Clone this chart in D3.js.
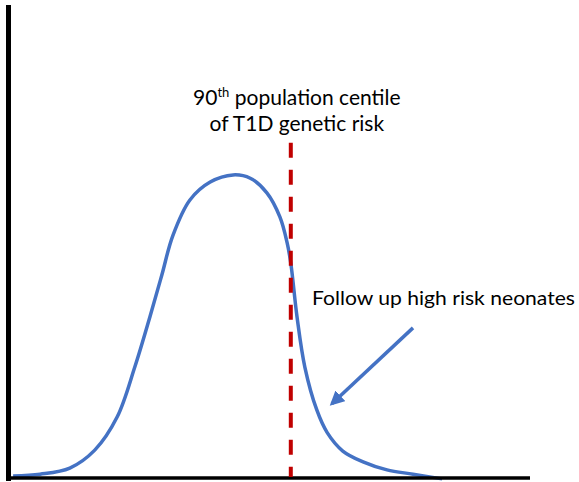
<!DOCTYPE html>
<html lang="en">
<head>
    <meta charset="utf-8">
    <title>risk</title>
    <script src="https://cdn.jsdelivr.net/npm/d3@7"></script>
</head>
<style>
body { margin: 0; background: #fff; }
.curve {
  fill: none;
  stroke: #4472C4;
  stroke-width: 3.5px;
}
.label {
  font-family: Lato, "Open Sans", sans-serif;
  fill: #000;
}
</style>
<body>
<script type="text/javascript">
    // genetic risk score (x) vs population density (y)
    var riskScore = [0.6, 5.8, 11.5, 16.3, 20.6, 24.0, 26.9, 29.2, 31.3, 34.6, 38.5, 42.9, 46.2,
                     49.4, 51.9, 53.3, 54.0, 55.2, 56.7, 59.0, 61.0, 64.0, 67.9, 72.5, 77.5, 83.1];
    var density = [0.2, 0.6, 1.9, 5.7, 12.7, 23.3, 33.9, 42.8, 51.1, 58.7, 62.5, 64.0, 63.3,
                   60.2, 55.1, 49.6, 45.3, 33.9, 23.3, 14.2, 9.4, 5.5, 3.2, 1.5, 0.6, -0.4];
    var centile = 54.0, centileTop = 70.8;
    var arrowFrom = [77.5, 31.6], arrowTo = [61.9, 15.5];
    var centileLines = ["population centile", "of T1D genetic risk"];
    var arrowLabel = "Follow up high risk neonates";

    var width = 579, height = 482;

    var svg = d3.select("body")
            .append("svg")
            .attr("width", width)
            .attr("height", height);

    var x = d3.scaleLinear().domain([0, 100]).range([10, 530]);
    var y = d3.scaleLinear().domain([0, 100]).range([477, 5]);

    var points = riskScore.map(function(d, i) { return [d, density[i]]; });

    svg.append("defs").append("marker")
            .attr("id", "head")
            .attr("viewBox", "0 0 10 10")
            .attr("refX", 8).attr("refY", 5)
            .attr("markerWidth", 4.2).attr("markerHeight", 4.2)
            .attr("orient", "auto")
            .append("path")
            .attr("d", "M0,0 L10,5 L0,10 z")
            .attr("fill", "#4472C4");

    //曲线
    var line = d3.line()
            .x(function(d) { return x(d[0]); })
            .y(function(d) { return y(d[1]); })
            .curve(d3.curveCatmullRom.alpha(0.5));

    svg.append("path")
            .datum(points)
            .attr("class", "curve")
            .attr("d", line);

    //坐标轴
    svg.append("line")
            .attr("x1", x(0) - 1.5).attr("x2", x(0) - 1.5)
            .attr("y1", y(100)).attr("y2", y(0) + 4)
            .attr("stroke", "#000").attr("stroke-width", 5);
    svg.append("line")
            .attr("x1", x(0) - 4).attr("x2", x(100))
            .attr("y1", y(0) + 1).attr("y2", y(0) + 1)
            .attr("stroke", "#000").attr("stroke-width", 3.5);

    //90th centile
    svg.append("line")
            .attr("x1", x(centile)).attr("x2", x(centile))
            .attr("y1", y(centileTop)).attr("y2", y(0))
            .attr("stroke", "#C00000")
            .attr("stroke-width", 4)
            .attr("stroke-dasharray", "15,12");

    var t1 = svg.append("text")
            .attr("class", "label")
            .attr("x", x(centile) + 6)
            .attr("y", 105)
            .attr("text-anchor", "middle")
            .attr("font-size", "21px");
    t1.append("tspan").text("90");
    t1.append("tspan").attr("font-size", "13px").attr("dy", -8).text("th");
    t1.append("tspan").attr("dy", 8).text(" " + centileLines[0]);

    svg.append("text")
            .attr("class", "label")
            .attr("x", x(centile) + 6)
            .attr("y", 131)
            .attr("text-anchor", "middle")
            .attr("font-size", "21px")
            .text(centileLines[1]);

    //箭头
    svg.append("line")
            .attr("x1", x(arrowFrom[0])).attr("y1", y(arrowFrom[1]))
            .attr("x2", x(arrowTo[0])).attr("y2", y(arrowTo[1]))
            .attr("stroke", "#4472C4")
            .attr("stroke-width", 3.5)
            .attr("marker-end", "url(#head)");

    svg.append("text")
            .attr("class", "label")
            .attr("x", 312)
            .attr("y", 305)
            .attr("font-size", "20px")
            .attr("textLength", 263)
            .attr("lengthAdjust", "spacingAndGlyphs")
            .text(arrowLabel);
</script>
</body>
</html>
